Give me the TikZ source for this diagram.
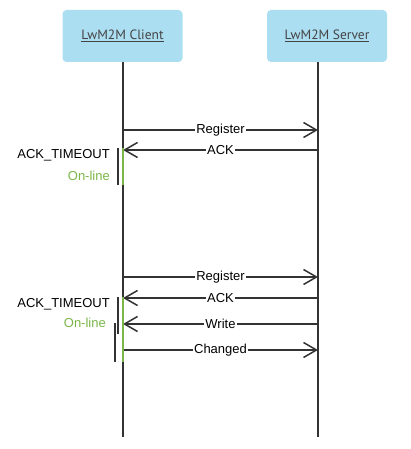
\documentclass[tikz,border=0pt]{standalone}
\usepackage{fontspec}
\setmainfont{Liberation Sans}
\newfontfamily\partyfont{PT Sans}
\usetikzlibrary{arrows.meta}

\definecolor{partyblue}{RGB}{172,222,242}
\definecolor{partytext}{RGB}{68,68,68}
\definecolor{linegray}{RGB}{51,51,51}
\definecolor{onlinegreen}{RGB}{122,182,72}

\tikzset{
  party/.style={rectangle, rounded corners=4pt, fill=partyblue, minimum width=120pt,
    minimum height=52pt, text=partytext, font=\partyfont\fontsize{13.5}{15}\selectfont},
  lifeline/.style={draw=linegray, line width=2pt},
  msg/.style={draw=linegray, line width=1.5pt, -{Straight Barb[length=13pt,width=15pt]}},
  msglabel/.style={fill=white, inner sep=1pt, font=\fontsize{13}{15}\selectfont},
  timerbar/.style={draw=linegray, line width=2pt},
  onlinebar/.style={draw=onlinegreen, line width=2.5pt},
  timerlabel/.style={anchor=east, inner sep=0pt, font=\fontsize{13}{15}\selectfont},
}

\begin{document}
\begin{tikzpicture}[x=1pt, y=-1pt]
        \useasboundingbox (0,0) rectangle (411,449);
        % the two parties
        \node[party] (client) at (122.5,36) {\underline{LwM2M Client}};
        \node[party] (server) at (327,36) {\underline{LwM2M Server}};
        \coordinate (cend) at (123,437);
        \coordinate (send) at (318,437);
        \draw[lifeline] (client.south -| cend) -- (cend);
        \draw[lifeline] (server.south -| send) -- (send);
        % message rows on both lifelines
        \foreach \n/\y in {1/130, 2/150, 3/277, 4/298, 5/324, 6/350} {
          \coordinate (c\n) at (123,\y);
          \coordinate (s\n) at (318,\y);
        }
        % first registration
        \draw[msg] (c1) -- node[msglabel] (reg1) {Register} (s1);
        \draw[msg] (s2) -- node[msglabel] (ack1) {ACK} (c2);
        \draw[timerbar] (118,148) -- (118,185);
        \draw[onlinebar] (123,148) -- (123,185);
        \node[timerlabel] (timeout1) at (110,155) {ACK\_TIMEOUT};
        \node[timerlabel, text=onlinegreen] (online1) at (110,176) {On-line};
        % second registration
        \draw[msg] (c3) -- node[msglabel] (reg2) {Register} (s3);
        \draw[msg] (s4) -- node[msglabel] (ack2) {ACK} (c4);
        \draw[msg] (s5) -- node[msglabel] (write) {Write} (c5);
        \draw[msg] (c6) -- node[msglabel] (changed) {Changed} (s6);
        \draw[timerbar] (117.5,297) -- (117.5,334);
        \draw[timerbar] (115,323) -- (115,362);
        \draw[onlinebar] (123,297) -- (123,362);
        \node[timerlabel] (timeout2) at (110,304) {ACK\_TIMEOUT};
        \node[timerlabel, text=onlinegreen] (online2) at (106,323) {On-line};
\end{tikzpicture}
\end{document}
